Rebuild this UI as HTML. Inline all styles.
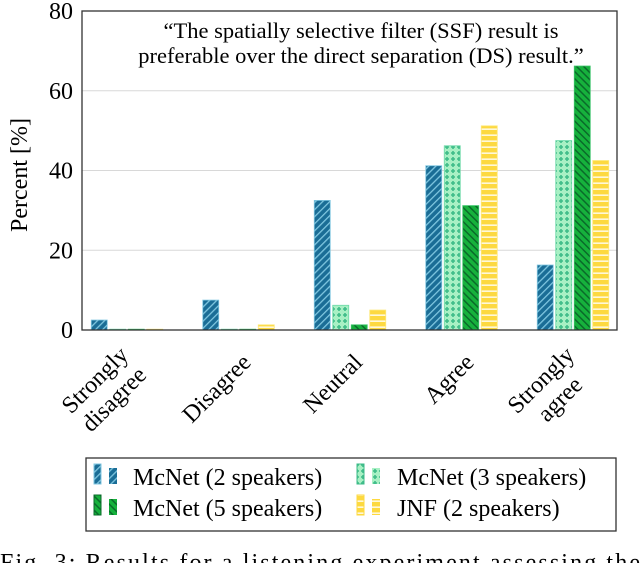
<!DOCTYPE html>
<html><head><meta charset="utf-8"><style>
body{margin:0;background:#fff}
svg{display:block;font-family:"Liberation Serif",serif}
</style></head><body>
<svg id="chart" width="640" height="563" viewBox="0 0 640 563">
<defs>
<pattern id="p-blue" width="5" height="5" patternUnits="userSpaceOnUse" patternTransform="rotate(45)"><rect width="5" height="5" fill="#1a6d96"/><rect width="1.3" height="5" fill="#7fc6e0"/></pattern>
<pattern id="p-teal" width="6" height="6" patternUnits="userSpaceOnUse"><rect width="6" height="6" fill="#a8f0c4"/><path d="M1 3h4M3 1v4" stroke="#3dbb88" stroke-width="1.6"/></pattern>
<pattern id="p-green" width="5" height="5" patternUnits="userSpaceOnUse" patternTransform="rotate(-45)"><rect width="5" height="5" fill="#16b13c"/><rect width="1.5" height="5" fill="#0a6a2a"/></pattern>
<pattern id="p-yellow" width="6" height="6" patternUnits="userSpaceOnUse"><rect width="6" height="6" fill="#fdd940"/><rect y="2.5" width="6" height="1.3" fill="#fff"/></pattern>
</defs>
<g id="grid"></g>
<g id="bars"></g>
<rect x="82" y="11" width="535" height="319" fill="none" stroke="#333" stroke-width="1.3"/>
<g id="yticks" font-size="24" text-anchor="end"></g>
<text transform="translate(27,175) rotate(-90)" font-size="24" text-anchor="middle">Percent [%]</text>
<g id="xlabels" font-size="24"></g>
<text x="361" y="38" font-size="22.5" text-anchor="middle">“The spatially selective filter (SSF) result is</text>
<text x="361" y="63" font-size="22.5" text-anchor="middle">preferable over the direct separation (DS) result.”</text>
<g>
<rect x="86" y="458" width="530" height="73" fill="#fff" stroke="#333" stroke-width="1.3"/>
<g><rect x="94" y="464" width="7" height="20" fill="url(#p-blue)" stroke="#7fc6e0"/><rect x="109" y="468" width="8" height="16" fill="url(#p-blue)"/><text x="133" y="485" font-size="24">McNet (2 speakers)</text></g>
<g><rect x="357" y="464" width="7" height="20" fill="url(#p-teal)" stroke="#3dbb88"/><rect x="372" y="468" width="8" height="16" fill="url(#p-teal)"/><text x="397" y="485" font-size="24">McNet (3 speakers)</text></g>
<g><rect x="94" y="495" width="7" height="20" fill="url(#p-green)" stroke="#0a6a2a"/><rect x="109" y="499" width="8" height="16" fill="url(#p-green)"/><text x="133" y="516" font-size="24">McNet (5 speakers)</text></g>
<g><rect x="357" y="495" width="7" height="20" fill="url(#p-yellow)" stroke="#fdd940"/><rect x="372" y="499" width="8" height="16" fill="url(#p-yellow)"/><text x="397" y="516" font-size="24">JNF (2 speakers)</text></g>
</g>
<text x="0" y="570" font-size="24" textLength="640">Fig. 3: Results for a listening experiment assessing the</text>
</svg>
<script>
const categories = [["Strongly","disagree"],["Disagree"],["Neutral"],["Agree"],["Strongly","agree"]];
const seriesNames = ["McNet (2 speakers)","McNet (3 speakers)","McNet (5 speakers)","JNF (2 speakers)"];
const mcnet2 = [2.5, 7.5, 32.5, 41.2, 16.3];
const mcnet3 = [0.2, 0.2, 6.2, 46.2, 47.5];
const mcnet5 = [0.2, 0.2, 1.3, 31.2, 66.2];
const jnf2 = [0.2, 1.3, 5.0, 51.2, 42.5];
const yTicks = [0, 20, 40, 60, 80];

const series = [mcnet2, mcnet3, mcnet5, jnf2];
const fills = ["url(#p-blue)","url(#p-teal)","url(#p-green)","url(#p-yellow)"];
const strokes = ["#7fc6e0","#6ad8a6","#3cc46a","#fde877"];
const NS = "http://www.w3.org/2000/svg";
const y = v => 330 - v * (319 / 80);
const groupX = i => 127 + i * 111.5;
const barW = 16, step = 18.5;
const bars = document.getElementById('bars');
const grid = document.getElementById('grid');
const yt = document.getElementById('yticks');
yTicks.forEach(t => {
  if (t > 0 && t < 80) {
    const l = document.createElementNS(NS,'line');
    l.setAttribute('x1',82); l.setAttribute('x2',617);
    l.setAttribute('y1',y(t)); l.setAttribute('y2',y(t));
    l.setAttribute('stroke','#d8d8d8'); l.setAttribute('stroke-width','1');
    
    
    grid.appendChild(l);
  }
  const tx = document.createElementNS(NS,'text');
  tx.setAttribute('x',73); tx.setAttribute('y',y(t)+8);
  tx.textContent = t;
  
  
  yt.appendChild(tx);
});
series.forEach((s, si) => {
  s.forEach((v, ci) => {
    const r = document.createElementNS(NS,'rect');
    const x = groupX(ci) + (si - 1.5) * step - barW/2;
    r.setAttribute('x', x); r.setAttribute('width', barW);
    r.setAttribute('y', y(v)); r.setAttribute('height', Math.max(0.8, 330 - y(v)));
    r.setAttribute('fill', fills[si]); r.setAttribute('stroke', strokes[si]); r.setAttribute('stroke-width','0.8');
    
    
    bars.appendChild(r);
  });
});
const xl = document.getElementById('xlabels');
categories.forEach((c, i) => {
  const g = document.createElementNS(NS,'g');
  g.setAttribute('transform', `translate(${groupX(i)+8},${358}) rotate(-45)`);
  
  
  if (c.length === 1) {
    const t = document.createElementNS(NS,'text');
    t.setAttribute('text-anchor','end'); t.setAttribute('y', 8);
    t.textContent = c[0]; g.appendChild(t);
  } else {
    c.forEach((line, li) => {
      const t = document.createElementNS(NS,'text');
      t.setAttribute('text-anchor','middle'); t.setAttribute('x', -44);
      t.setAttribute('y', -5 + li * 27);
      t.textContent = line; g.appendChild(t);
    });
  }
  xl.appendChild(g);
});
</script>
</body></html>
